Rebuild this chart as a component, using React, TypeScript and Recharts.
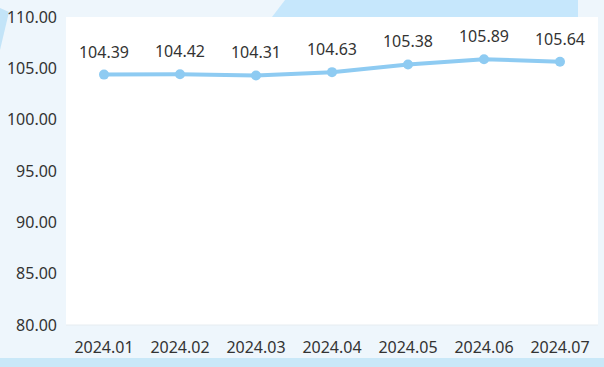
import React from 'react'
import { LineChart, Line, XAxis, YAxis, CartesianGrid, LabelList } from 'recharts'

const months = ['2024.01', '2024.02', '2024.03', '2024.04', '2024.05', '2024.06', '2024.07']
const values = [104.39, 104.42, 104.31, 104.63, 105.38, 105.89, 105.64]
const yTicks = [80, 85, 90, 95, 100, 105, 110]

const data = months.map((month, i) => ({ month, value: values[i] }))

const FONT = '"Noto Sans", "Open Sans", sans-serif'
const LINE_COLOR = '#8ecbf2'

const App: React.FC = () => {
  return (
    <div
      style={{
        position: 'absolute',
        left: 0,
        top: 0,
        width: 604,
        height: 367,
        background: '#eef6fc',
        overflow: 'hidden',
        fontFamily: FONT
      }}
    >
      {/* background decorations */}
      <svg width={604} height={367} style={{ position: 'absolute', left: 0, top: 0 }}>
        <polygon points="285,0 578,0 578,17 272,17" fill="#c6e7fc" />
        <polygon points="0,8 9,12 0,50" fill="#c3e4f8" />
        <rect x={0} y={358} width={604} height={9} fill="#c9e8f8" />
      </svg>
      <div style={{ position: 'absolute', left: 0, top: 0 }}>
        <LineChart
          width={604}
          height={367}
          data={data}
          margin={{ top: 17, right: 6, bottom: 12, left: 0 }}
        >
          <CartesianGrid fill="#ffffff" horizontal={false} vertical={false} />
          <XAxis
            dataKey="month"
            height={30}
            tickSize={0}
            tickMargin={17}
            padding={{ left: 38, right: 38 }}
            axisLine={{ stroke: '#e6ecf0' }}
            tick={{ fill: '#333333', fontSize: 16, fontFamily: FONT }}
            interval={0}
          />
          <YAxis
            width={66}
            domain={[80, 110]}
            ticks={yTicks}
            tickFormatter={(v: number) => v.toFixed(2)}
            tickSize={0}
            tickMargin={9}
            axisLine={false}
            tick={{ fill: '#333333', fontSize: 16, fontFamily: FONT }}
          />
          <Line
            type="linear"
            dataKey="value"
            stroke={LINE_COLOR}
            strokeWidth={4}
            dot={{ r: 5, fill: LINE_COLOR, stroke: LINE_COLOR, strokeWidth: 0 }}
            isAnimationActive={false}
          >
            <LabelList
              dataKey="value"
              position="top"
              offset={17}
              fill="#333333"
              fontSize={16}
              fontFamily={FONT}
              formatter={(v: number) => v.toFixed(2)}
            />
          </Line>
        </LineChart>
      </div>
    </div>
  )
}

export default App
